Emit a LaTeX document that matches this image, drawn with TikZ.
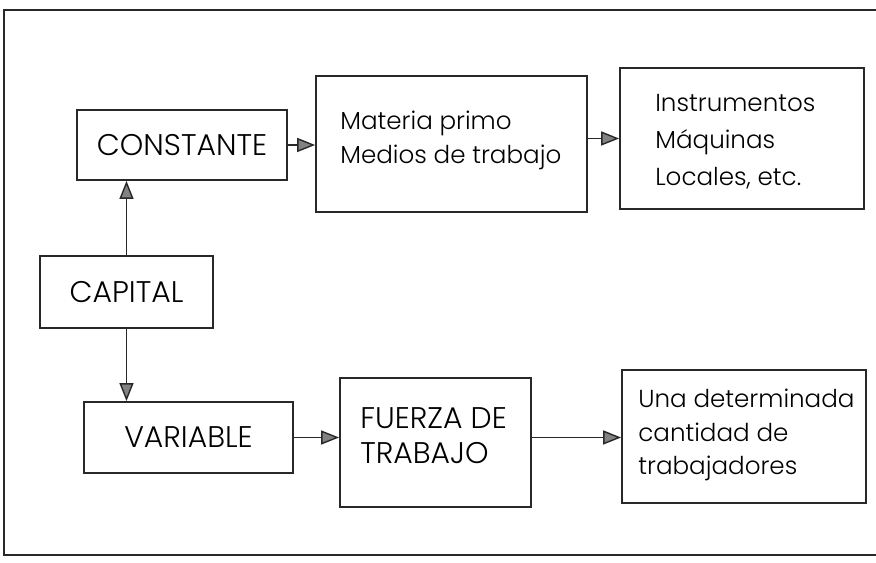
\documentclass[tikz,border=0pt]{standalone}
\usepackage{fontspec}
\IfFontExistsTF{Poppins Light}{\setmainfont{Poppins Light}}{\setmainfont{Poppins}}
\usetikzlibrary{arrows.meta,positioning,calc}
\definecolor{inkgray}{RGB}{40,40,40}
\definecolor{tipgray}{RGB}{130,130,130}

\tikzset{
  box/.style={draw=inkgray, line width=1pt, rectangle, inner sep=0pt},
  capstext/.style={font=\fontsize{17}{20}\selectfont},
  boxtext/.style={anchor=north west, inner sep=0pt, align=left, font=\fontsize{14}{19}\selectfont},
  arr/.style={draw=inkgray, line width=0.8pt, -{Triangle[length=3.6mm,width=2.8mm,fill=tipgray]}}
}

\begin{document}
\begin{tikzpicture}[x=0.02cm, y={(0cm,-0.02cm)}]
  \useasboundingbox (0,0) rectangle (876,563);
  % --- frame of the page
  \draw[inkgray, line width=1.2pt] (876,10) -- (4,10) -- (4,555) -- (876,555);
  % --- left column
  \node[box, capstext, minimum width=4.2cm, minimum height=1.4cm] (constante) at (182,145) {CONSTANTE};
  \node[box, capstext, minimum width=3.46cm, minimum height=1.44cm] (capital) at (126.5,292) {CAPITAL};
  \node[box, capstext, minimum width=4.18cm, minimum height=1.42cm] (variable) at (188.5,437.5) {VARIABLE};
  % --- upper row
  \node[box, minimum width=5.42cm, minimum height=2.72cm] (materia) at (451.5,144) {};
  \node[boxtext] (materiaT) at (340,111) {Materia primo\\Medios de trabajo};
  \node[box, minimum width=4.88cm, minimum height=2.82cm] (instr) at (742,138.5) {};
  \node[boxtext, font=\fontsize{14}{21}\selectfont] (instrT) at (655,94) {Instrumentos\\Máquinas\\Locales, etc.};
  % --- lower row
  \node[box, minimum width=3.82cm, minimum height=2.58cm] (fuerza) at (435.5,442.5) {};
  \node[boxtext, capstext] (fuerzaT) at (360,407) {FUERZA DE\\TRABAJO};
  \node[box, minimum width=4.88cm, minimum height=2.66cm] (una) at (744,436.5) {};
  \node[boxtext] (unaT) at (638,389) {Una determinada\\cantidad de\\trabajadores};
  % --- connectors
  \draw[arr] (capital.north) -- (capital.north |- constante.south);
  \draw[arr] (capital.south) -- (capital.south |- variable.north);
  \draw[arr] (constante.east) -- (constante.east -| materia.west);
  \draw[arr] (materia.east |- instr.west) -- (instr.west);
  \draw[arr] (variable.east) -- (variable.east -| fuerza.west);
  \draw[arr] (fuerza.east |- variable.east) -- (variable.east -| una.west);
\end{tikzpicture}
\end{document}
